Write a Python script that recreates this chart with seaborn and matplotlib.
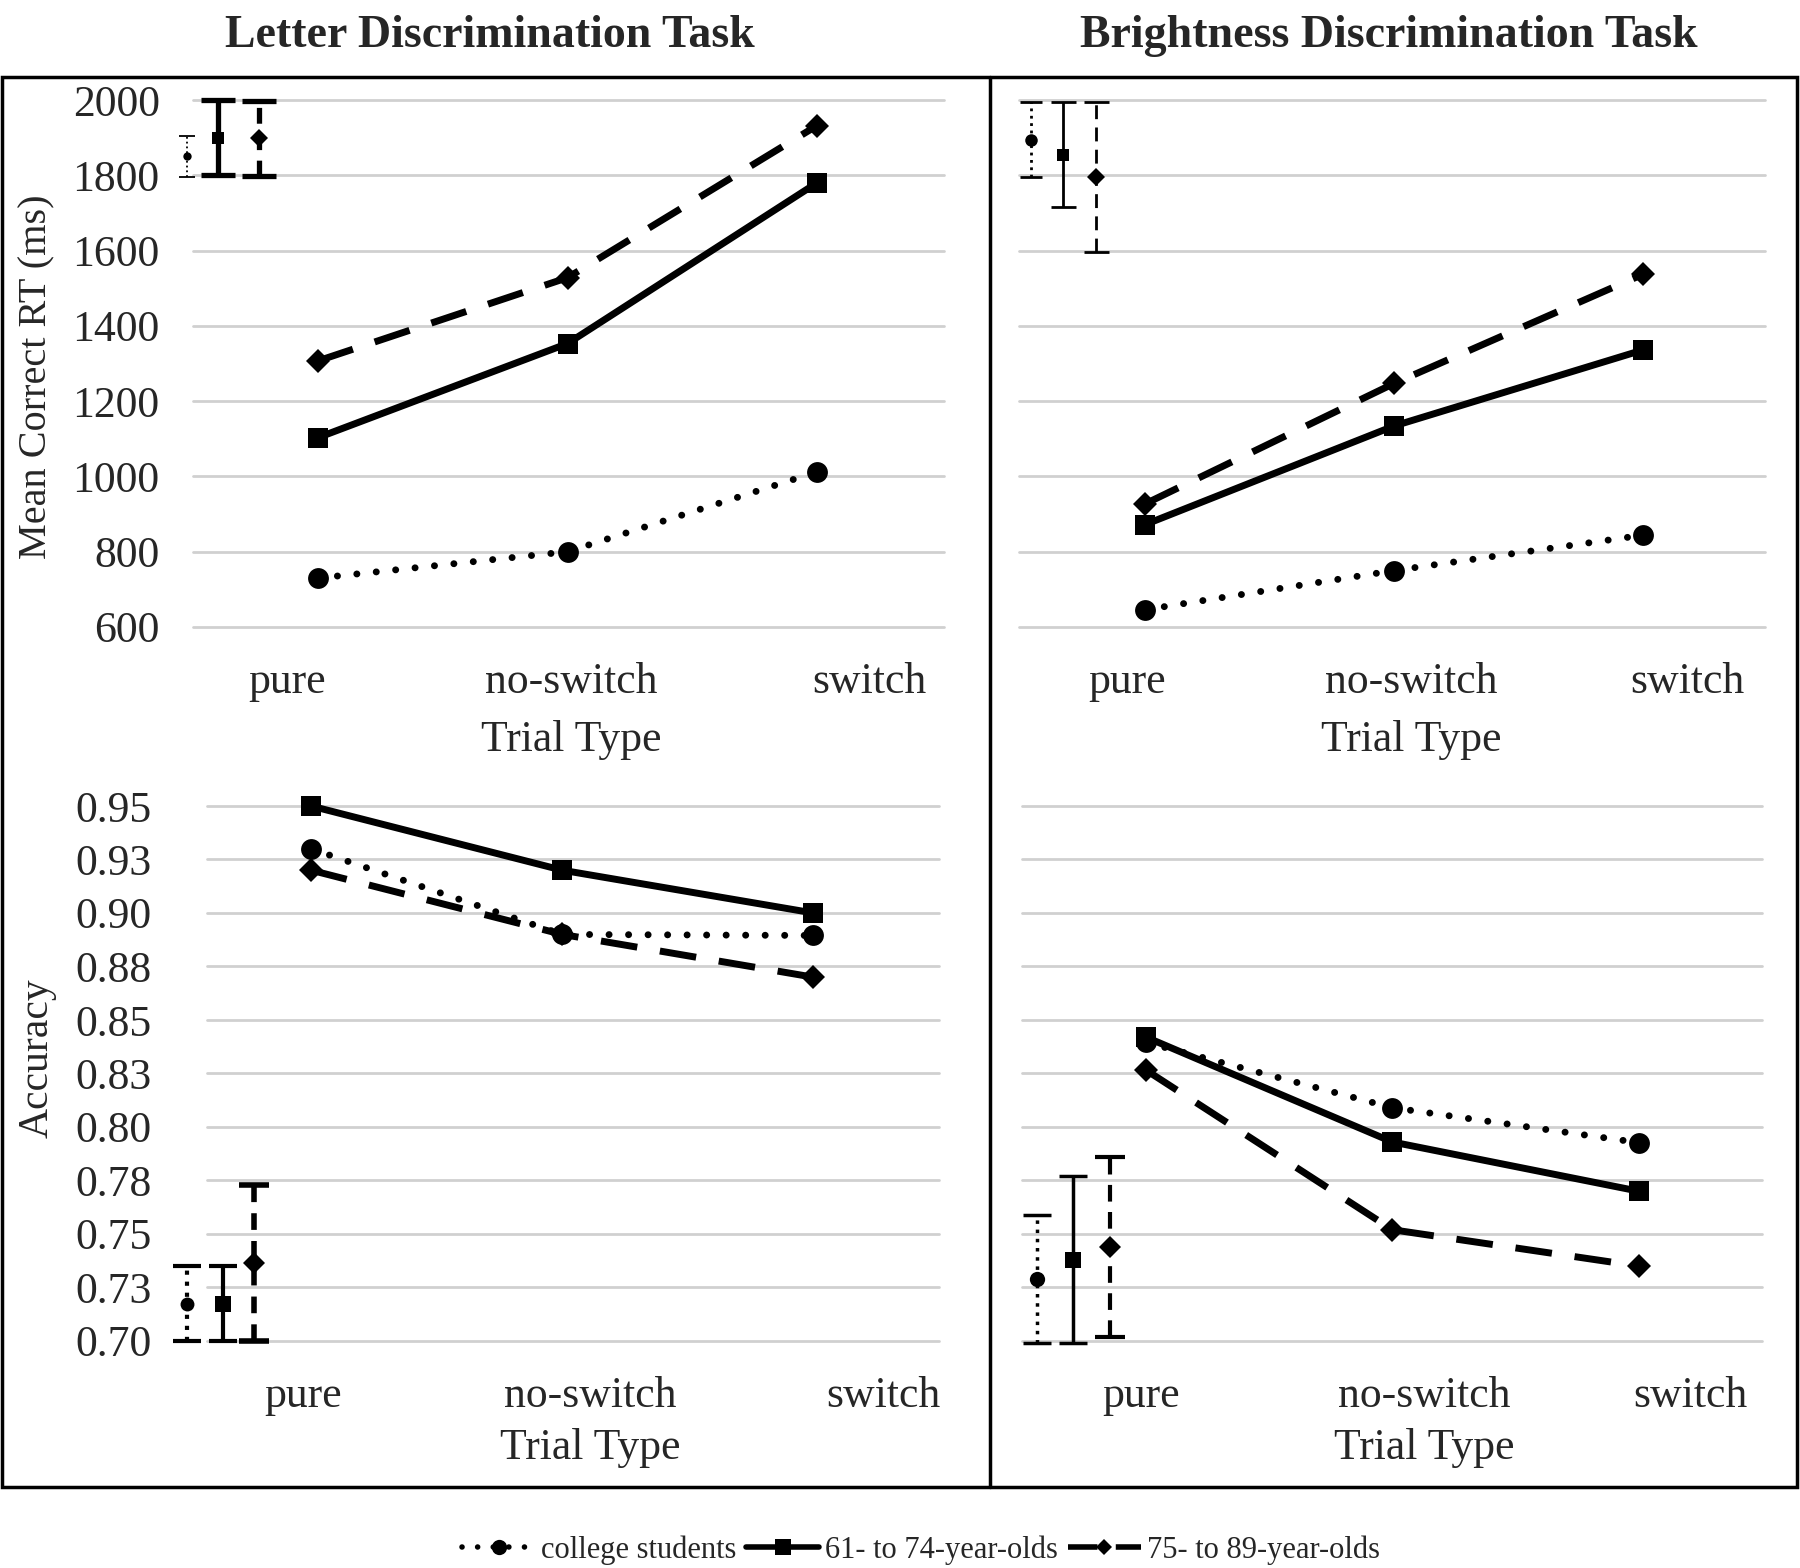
import numpy as np
import pandas as pd
import matplotlib
matplotlib.use("Agg")
import matplotlib.pyplot as plt
import seaborn as sns
from matplotlib.lines import Line2D
from matplotlib.patches import Rectangle

TRIALS = ["pure", "no-switch", "switch"]
GROUPS = ["college students", "61- to 74-year-olds", "75- to 89-year-olds"]

# mean correct RT (ms), one row per group
letter_rt = [[730, 800, 1012], [1103, 1353, 1780], [1307, 1528, 1932]]
bright_rt = [[646, 750, 844], [872, 1134, 1336], [927, 1247, 1537]]

# accuracy, one row per group
letter_acc = [[0.930, 0.890, 0.8895], [0.950, 0.920, 0.900], [0.920, 0.890, 0.870]]
bright_acc = [[0.8395, 0.809, 0.7927], [0.842, 0.793, 0.770], [0.8266, 0.752, 0.735]]

# standalone error-bar markers (mean, half width) per group
letter_rt_err_mean = [1850, 1900, 1898]
letter_rt_err_half = [55, 100, 100]
bright_rt_err_mean = [1895, 1855, 1795]
bright_rt_err_half = [100, 140, 200]
letter_acc_err_mean = [0.7175, 0.7175, 0.7365]
letter_acc_err_half = [0.0175, 0.0175, 0.0365]
bright_acc_err_mean = [0.729, 0.738, 0.744]
bright_acc_err_half = [0.030, 0.039, 0.042]

rt_ticks = [600, 800, 1000, 1200, 1400, 1600, 1800, 2000]
acc_ticks = [0.70, 0.725, 0.75, 0.775, 0.80, 0.825, 0.85, 0.875, 0.90, 0.925, 0.95]
acc_tick_labels = ["0.70", "0.73", "0.75", "0.78", "0.80", "0.83",
                   "0.85", "0.88", "0.90", "0.93", "0.95"]

W, H = 1800, 1568
FS = 31.5

sns.set_style("white")
plt.rcParams["font.family"] = ["Liberation Serif", "DejaVu Serif"]

DOT = (0, (0.01, 2.8))
DASH = (0, (5.3, 3.3))
LINESTYLES = [DOT, "-", DASH]
MARKERS = ["o", "s", "D"]
MSIZES = [15, 15, 12]


def rect(x0, y0, x1, y1):
    return [x0 / W, 1 - y1 / H, (x1 - x0) / W, (y1 - y0) / H]


def draw_panel(ax, values, err_mean, err_half, err_x, err_style, xlim, ylim,
               ticks, tick_labels, label_x, show_ylabels, ypad, title_off):
    rows = []
    for g, vals in zip(GROUPS, values):
        for i, v in enumerate(vals):
            rows.append({"group": g, "pos": i, "value": v})
    df = pd.DataFrame(rows)

    for k, g in enumerate(GROUPS):
        sub = df[df["group"] == g]
        sns.lineplot(data=sub, x="pos", y="value", ax=ax, color="black",
                     linewidth=5, linestyle=LINESTYLES[k], marker=MARKERS[k],
                     markersize=MSIZES[k], markeredgewidth=0,
                     dash_capstyle="round" if k == 0 else "butt",
                     errorbar=None, legend=False, zorder=3, clip_on=False)

    for k in range(3):
        lw, ms, cs, ls = err_style[k]
        eb = ax.errorbar(err_x[k], err_mean[k], yerr=err_half[k], fmt=MARKERS[k],
                         color="black", ms=ms, elinewidth=lw,
                         capsize=cs, capthick=lw, zorder=3)
        eb[0].set_markeredgewidth(0)
        eb[0].set_clip_on(False)
        eb[2][0].set_linestyle(ls)
        eb[2][0].set_clip_on(False)
        for c in eb[1]:
            c.set_clip_on(False)

    ax.set_xlim(*xlim)
    ax.set_ylim(*ylim)
    ax.set_yticks(ticks)
    if show_ylabels:
        ax.set_yticklabels(tick_labels, fontsize=FS)
    else:
        ax.set_yticklabels([])
    ax.tick_params(axis="y", length=0, pad=ypad)
    ax.set_xticks(label_x, TRIALS, fontsize=FS)
    ax.tick_params(axis="x", length=0, pad=25)
    ax.set_xlabel("")
    ax.set_ylabel("")
    ax.yaxis.grid(True, color="#d0d0d0", linewidth=2)
    for gl in ax.yaxis.get_gridlines():
        gl.set_clip_on(False)
    ax.set_axisbelow(True)
    sns.despine(ax=ax, left=True, bottom=True)
    ax.annotate("Trial Type", xy=(label_x[1], 0), xycoords=("data", "axes fraction"),
                xytext=(0, title_off), textcoords="offset points",
                ha="center", va="center", fontsize=FS)


fig = plt.figure(figsize=(W / 100, H / 100), dpi=100)

ax_tl = fig.add_axes(rect(193, 100, 944, 627))
ax_tr = fig.add_axes(rect(1019, 100, 1765, 627))
ax_bl = fig.add_axes(rect(207, 806, 939, 1341))
ax_br = fig.add_axes(rect(1022, 806, 1762, 1341))

draw_panel(ax_tl, letter_rt, letter_rt_err_mean, letter_rt_err_half,
           [-0.525, -0.40, -0.236],
           [(1.3, 6, 6, ":"), (3.8, 9, 12, "-"), (3.8, 9, 12, (0, (3, 2)))],
           (-0.501, 2.509), (600, 2000), rt_ticks, [str(t) for t in rt_ticks],
           [-0.124, 1.016, 2.21], True, 24, -81)
draw_panel(ax_tr, bright_rt, bright_rt_err_mean, bright_rt_err_half,
           [-0.458, -0.330, -0.197],
           [(2, 9, 8, ":"), (2, 9, 9, "-"), (2, 9, 9, (0, (5, 3)))],
           (-0.506, 2.49), (600, 2000), rt_ticks, [],
           [-0.072, 1.07, 2.18], False, 5, -81)
draw_panel(ax_bl, letter_acc, letter_acc_err_mean, letter_acc_err_half,
           [-0.494, -0.35, -0.227],
           [(3, 10, 10, ":"), (3, 11, 10, "-"), (4, 11, 11, (0, (3, 2)))],
           (-0.414, 2.50), (0.70, 0.95), acc_ticks, acc_tick_labels,
           [-0.03, 1.11, 2.28], True, 40, -77)
draw_panel(ax_br, bright_acc, bright_acc_err_mean, bright_acc_err_half,
           [-0.442, -0.296, -0.146],
           [(2.5, 11, 10, ":"), (2.5, 12, 10, "-"), (3, 11, 11, (0, (4, 2.5)))],
           (-0.503, 2.50), (0.70, 0.95), acc_ticks, [],
           [-0.02, 1.13, 2.21], False, 5, -77)

fig.text(37 / W, 1 - 377 / H, "Mean Correct RT (ms)", rotation=90,
         ha="center", va="center", fontsize=29)
fig.text(37 / W, 1 - 1058 / H, "Accuracy", rotation=90,
         ha="center", va="center", fontsize=30)

fig.text(490 / W, 1 - 36 / H, "Letter Discrimination Task", ha="center",
         va="center", fontsize=33, fontweight="bold")
fig.text(1389 / W, 1 - 36 / H, "Brightness Discrimination Task", ha="center",
         va="center", fontsize=33, fontweight="bold")

# outer frame and divider
fig.patches.append(Rectangle((2 / W, 1 - 1487 / H), 1795 / W, 1410 / H,
                             transform=fig.transFigure, fill=False,
                             edgecolor="black", linewidth=2.5))
fig.lines.append(Line2D([990 / W, 990 / W], [1 - 77 / H, 1 - 1487 / H],
                        transform=fig.transFigure, color="black", linewidth=2.5))

handles = [Line2D([], [], color="black", linewidth=4, linestyle=LINESTYLES[k],
                  dash_capstyle="round" if k == 0 else "butt",
                  marker=MARKERS[k], markersize=MSIZES[k] - 4, markeredgewidth=0)
           for k in range(3)]
fig.legend(handles, GROUPS, loc="center", bbox_to_anchor=(921 / W, 1 - 1550 / H),
           ncol=3, frameon=False, fontsize=22, handlelength=2.4,
           handletextpad=0.2, columnspacing=0.3)

fig.savefig("out.png", dpi=100)
